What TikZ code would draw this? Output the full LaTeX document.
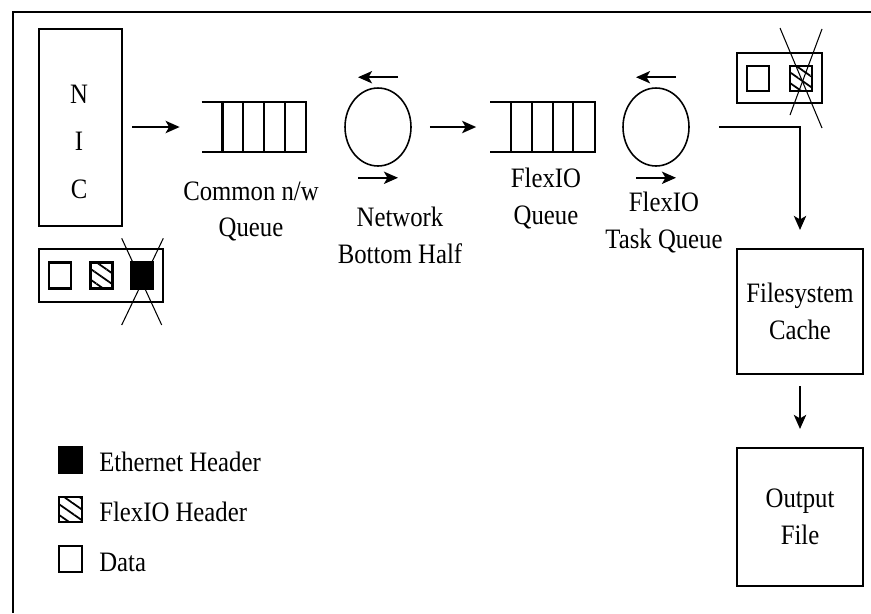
\documentclass[tikz,border=0pt]{standalone}
\usepackage{fontspec}
\setmainfont[FakeStretch=0.88]{Liberation Serif}
\usetikzlibrary{arrows.meta, positioning, shapes.geometric, patterns.meta}

\begin{document}
\begin{tikzpicture}[
  x=0.02cm, y=-0.02cm,
  every node/.style={font=\fontsize{16}{21}\selectfont},
  box/.style={draw, line width=1.2pt, minimum width=2.52cm, inner sep=0pt, align=center},
  qslot/.style={minimum width=2.08cm, minimum height=1cm, inner sep=0pt},
  ring/.style={draw, ellipse, line width=0.9pt, minimum width=1.32cm,
               minimum height=1.56cm, inner sep=0pt},
  cell/.style={draw, line width=1.2pt, minimum width=0.44cm, minimum height=0.52cm, inner sep=0pt},
  eth/.style={cell, fill=black},
  fio/.style={cell, pattern={Lines[angle=-35, distance=5pt, line width=1pt]}},
  lbl/.style={align=center, inner sep=0pt},
  flow/.style={-{Stealth[length=8pt, width=7pt, inset=2pt]}, line width=1.1pt}
]
  \useasboundingbox (0,0) rectangle (871,613);
  \draw[line width=1.3pt] (871,12) -- (13,12) -- (13,613);

  % NIC and incoming packet
  \node[box, minimum width=1.66cm, minimum height=3.94cm] (nic) at (80.5,127.5) {};
  \node[lbl] (nictxt) at (79,141.5) {N\\[6pt]I\\[6pt]C};
  \node[box, minimum width=2.48cm, minimum height=1.06cm] (pkt1) at (101,275.5) {};
  \node[cell] (d1) at (60,275.5) {};
  \node[fio]  (h1) at (101.5,275.5) {};
  \node[eth]  (e1) at (142,275.5) {};
  \draw[line width=0.6pt] (121.7,238.3) -- (161.7,325);
  \draw[line width=0.6pt] (163.3,238.3) -- (121.7,325);

  % queues and task loops
  \node[qslot] (cq) at (254,127) {};
  \node[lbl] (cqtxt) at (251,211.5) {Common n/w\\Queue};
  \node[ring] (nbh) at (378,127) {};
  \node[lbl] (nbhtxt) at (400,235) {Network\\Bottom Half};
  \node[qslot] (fq) at (542.5,127) {};
  \node[lbl] (fqtxt) at (546,198.5) {FlexIO\\Queue};
  \node[ring] (ftq) at (656,127) {};
  \node[lbl] (ftqtxt) at (664,222.5) {FlexIO\\Task Queue};

  \foreach \q in {cq, fq} {
    \draw[line width=1.2pt] (\q.north west) -- (\q.north east) -- (\q.south east) -- (\q.south west);
    \foreach \i in {1,...,4}
      \draw[line width=1.2pt] ([xshift=\i*0.416cm]\q.north west) -- ([xshift=\i*0.416cm]\q.south west);
  }
  \foreach \r in {nbh, ftq} {
    \draw[flow] ([xshift=0.4cm, yshift=0.2cm]\r.north) -- ([xshift=-0.4cm, yshift=0.2cm]\r.north);
    \draw[flow] ([xshift=-0.4cm, yshift=-0.22cm]\r.south) -- ([xshift=0.4cm, yshift=-0.22cm]\r.south);
  }

  % outgoing packet
  \node[box, minimum width=1.7cm, minimum height=1cm] (pkt2) at (779.5,78) {};
  \node[cell, minimum height=0.5cm] (d2) at (758,78.5) {};
  \node[fio, minimum height=0.5cm]  (h2) at (801,78.5) {};
  \draw[line width=0.6pt] (780,28) -- (822,128);
  \draw[line width=0.6pt] (822,29) -- (790,115);

  % filesystem side
  \node[box, minimum height=2.5cm]  (fs)  at (800,311.5) {Filesystem\\Cache};
  \node[box, minimum height=2.76cm] (out) at (800,517) {Output\\File};

  \draw[flow, shorten <=0.18cm, shorten >=0.44cm] (nic.east |- cq.west) -- (cq.west);
  \draw[flow, shorten <=0.36cm, shorten >=0.28cm] (nbh.east) -- (fq.west);
  \draw[flow, shorten <=0.58cm, shorten >=0.36cm] (ftq.east) -| (fs.north);
  \draw[flow, shorten <=0.22cm, shorten >=0.36cm] (fs) -- (out);

  % legend
  \node[eth, minimum width=0.46cm] (leth) at (70.5,460) {};
  \node[fio, minimum width=0.46cm, minimum height=0.5cm] (lfio) at (70.5,509.5) {};
  \node[cell, minimum width=0.46cm] (ldat) at (70.5,559) {};
  \node[lbl, anchor=west] (teth) at (99,462) {Ethernet Header};
  \node[lbl, anchor=west] (tfio) at (99,512) {FlexIO Header};
  \node[lbl, anchor=west] (tdat) at (99,562) {Data};
\end{tikzpicture}
\end{document}
